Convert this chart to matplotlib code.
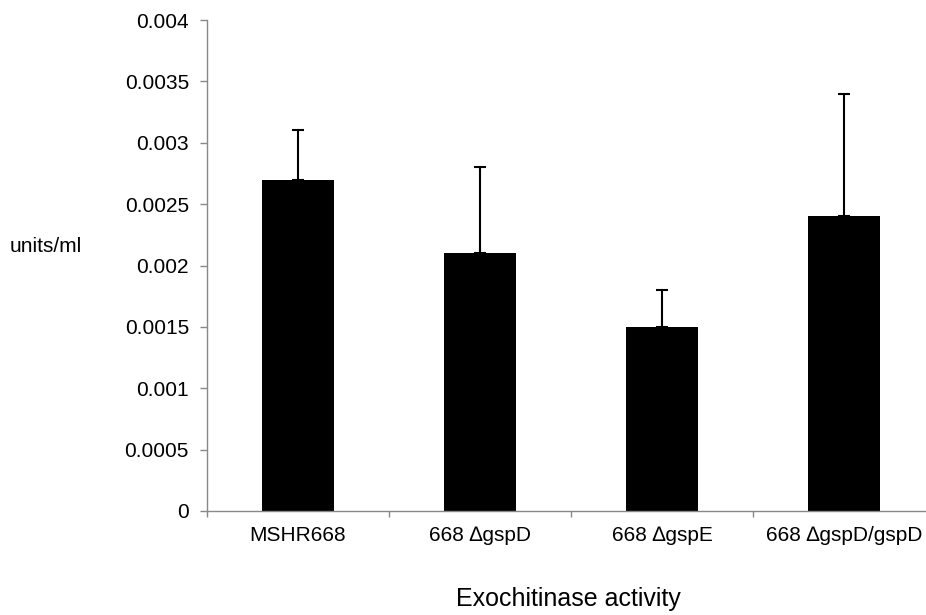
import numpy as np
import matplotlib.pyplot as plt
from matplotlib.ticker import FuncFormatter, FixedLocator

plt.rcParams['font.family'] = ['Liberation Sans', 'DejaVu Sans']

strains = ['MSHR668', '668 \u2206gspD', '668 \u2206gspE', '668 \u2206gspD/gspD']
activity = [0.0027, 0.0021, 0.0015, 0.0024]
err_up = [0.0004, 0.0007, 0.0003, 0.0010]

fig = plt.figure(figsize=(9.26, 6.15), dpi=100)
# the axis runs a little past the right edge of the picture
ax = fig.add_axes([207 / 926, 1 - 511 / 615, 728 / 926, 491 / 615])

x = np.arange(len(strains))
ax.bar(x, activity, width=0.4, color='black', zorder=2)
ax.errorbar(x, activity, yerr=[np.zeros(len(x)), err_up], fmt='none',
            ecolor='black', elinewidth=1.5, capsize=4.3, capthick=1.5, zorder=3)

ax.set_xlim(-0.5, len(strains) - 0.5)
ax.set_ylim(0, 0.004)
ax.set_yticks(np.arange(0, 0.00401, 0.0005))
ax.yaxis.set_major_formatter(FuncFormatter(lambda v, p: '%g' % round(v, 6)))

# category boundaries carry the tick marks, labels sit at the centres
ax.xaxis.set_major_locator(FixedLocator(np.arange(-0.5, len(strains), 1.0)))
ax.set_xticklabels([])
ax.set_xticks(x, minor=True)
ax.set_xticklabels(strains, minor=True)
ax.tick_params(axis='x', which='minor', length=0, pad=11, labelsize=15)
ax.tick_params(axis='x', which='major', length=4.5, color='#888888', width=1)
ax.tick_params(axis='y', length=5, color='#888888', width=1, labelsize=15, pad=8)

for s in ['top', 'right']:
    ax.spines[s].set_visible(False)
for s in ['left', 'bottom']:
    ax.spines[s].set_color('#888888')
    ax.spines[s].set_linewidth(1)

fig.text(46 / 926, 1 - 247 / 615, 'units/ml', ha='center', va='center', fontsize=15)
fig.text(568 / 926, 1 - 599 / 615, 'Exochitinase activity', ha='center', va='center', fontsize=18)

fig.savefig('out.png', dpi=100)
